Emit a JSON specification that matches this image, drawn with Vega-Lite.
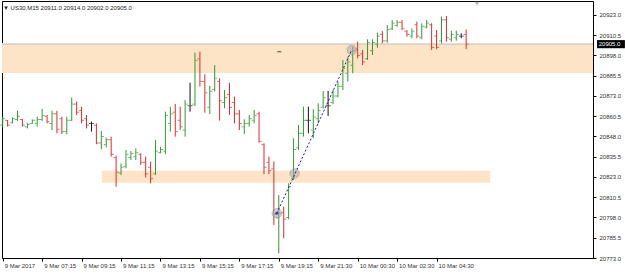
{
  "$schema": "https://vega.github.io/schema/vega-lite/v6.json",
  "width": 591,
  "height": 257,
  "autosize": "none",
  "padding": {"left": 2, "top": 1, "right": 32, "bottom": 16},
  "background": "white",
  "config": {
    "view": {"stroke": "#000000", "strokeWidth": 1},
    "font": "Liberation Sans"
  },
  "title": {
    "text": "▼ US30,M15  20911.0 20914.0 20902.0 20905.0",
    "anchor": "start",
    "frame": "group",
    "orient": "top",
    "offset": -10,
    "dx": 1,
    "fontSize": 6,
    "fontWeight": "normal",
    "color": "#222222",
    "font": "Liberation Sans"
  },
  "datasets": {
    "bars": [
      {"i":0,"o":20855,"h":20860.2,"l":20853.7,"c":20859,"d":"up"},
      {"i":1,"o":20858,"h":20858.2,"l":20854.1,"c":20855,"d":"down"},
      {"i":2,"o":20856.5,"h":20859.8,"l":20856.1,"c":20859,"d":"up"},
      {"i":3,"o":20858.5,"h":20863.9,"l":20857.6,"c":20860.5,"d":"up"},
      {"i":4,"o":20858.5,"h":20858.8,"l":20854.1,"c":20855,"d":"down"},
      {"i":5,"o":20854,"h":20856.5,"l":20853,"c":20855.5,"d":"up"},
      {"i":6,"o":20856,"h":20858.6,"l":20855.7,"c":20858,"d":"up"},
      {"i":7,"o":20856,"h":20860.2,"l":20854.1,"c":20858.5,"d":"up"},
      {"i":8,"o":20858.5,"h":20865,"l":20857.6,"c":20861,"d":"up"},
      {"i":9,"o":20860.5,"h":20861.3,"l":20856.1,"c":20857,"d":"down"},
      {"i":10,"o":20856,"h":20863.9,"l":20852,"c":20862,"d":"up"},
      {"i":11,"o":20862,"h":20863.9,"l":20850,"c":20852.5,"d":"down"},
      {"i":12,"o":20859,"h":20860.2,"l":20849.6,"c":20851,"d":"down"},
      {"i":13,"o":20851,"h":20860.2,"l":20849.3,"c":20858,"d":"up"},
      {"i":14,"o":20858,"h":20872,"l":20857.6,"c":20868,"d":"up"},
      {"i":15,"o":20868,"h":20869.5,"l":20861.3,"c":20863,"d":"down"},
      {"i":16,"o":20864,"h":20866.4,"l":20856.1,"c":20858,"d":"down"},
      {"i":17,"o":20859,"h":20861.3,"l":20853,"c":20855,"d":"down"},
      {"i":18,"o":20856,"h":20857.2,"l":20851,"c":20856,"d":"flat"},
      {"i":19,"o":20855,"h":20856.1,"l":20843.2,"c":20844,"d":"down"},
      {"i":20,"o":20844,"h":20851.4,"l":20840.1,"c":20848,"d":"up"},
      {"i":21,"o":20843,"h":20847.3,"l":20841.3,"c":20846,"d":"up"},
      {"i":22,"o":20846,"h":20847.9,"l":20835.6,"c":20837,"d":"down"},
      {"i":23,"o":20835,"h":20836.2,"l":20817,"c":20826,"d":"down"},
      {"i":24,"o":20825.5,"h":20831.4,"l":20824.2,"c":20829,"d":"up"},
      {"i":25,"o":20829.5,"h":20839.7,"l":20828.4,"c":20837,"d":"up"},
      {"i":26,"o":20835,"h":20839,"l":20833.5,"c":20837.5,"d":"up"},
      {"i":27,"o":20835.5,"h":20840.7,"l":20833.5,"c":20838,"d":"up"},
      {"i":28,"o":20837,"h":20837.6,"l":20830.4,"c":20832,"d":"down"},
      {"i":29,"o":20832,"h":20835.6,"l":20822.8,"c":20825,"d":"down"},
      {"i":30,"o":20829,"h":20832.5,"l":20819.1,"c":20822,"d":"down"},
      {"i":31,"o":20825,"h":20845.8,"l":20824.2,"c":20839,"d":"up"},
      {"i":32,"o":20838,"h":20841.7,"l":20837.6,"c":20840,"d":"up"},
      {"i":33,"o":20839,"h":20863.3,"l":20837,"c":20861,"d":"up"},
      {"i":34,"o":20856,"h":20866.4,"l":20851,"c":20862,"d":"up"},
      {"i":35,"o":20863,"h":20868.1,"l":20847.9,"c":20851,"d":"down"},
      {"i":36,"o":20858,"h":20866.4,"l":20852,"c":20854,"d":"down"},
      {"i":37,"o":20852,"h":20870.5,"l":20847.9,"c":20868,"d":"up"},
      {"i":38,"o":20867,"h":20881.2,"l":20863.3,"c":20867,"d":"flat"},
      {"i":39,"o":20868,"h":20899.8,"l":20866.8,"c":20895,"d":"up"},
      {"i":40,"o":20896,"h":20900.4,"l":20878.8,"c":20882,"d":"down"},
      {"i":41,"o":20882,"h":20886.4,"l":20862.7,"c":20875,"d":"down"},
      {"i":42,"o":20866,"h":20879.2,"l":20861.9,"c":20876,"d":"up"},
      {"i":43,"o":20877,"h":20892.1,"l":20875.7,"c":20884,"d":"up"},
      {"i":44,"o":20882,"h":20883.9,"l":20857.8,"c":20870,"d":"down"},
      {"i":45,"o":20869,"h":20876.7,"l":20865.4,"c":20872,"d":"up"},
      {"i":46,"o":20874,"h":20881.2,"l":20861.3,"c":20866,"d":"down"},
      {"i":47,"o":20869,"h":20872.6,"l":20856.1,"c":20862,"d":"down"},
      {"i":48,"o":20862,"h":20864.4,"l":20852,"c":20856,"d":"down"},
      {"i":49,"o":20854,"h":20858.6,"l":20849.6,"c":20856,"d":"up"},
      {"i":50,"o":20856,"h":20861.3,"l":20854.1,"c":20859,"d":"up"},
      {"i":51,"o":20858,"h":20864.4,"l":20856.1,"c":20861,"d":"up"},
      {"i":52,"o":20862,"h":20863.3,"l":20844.2,"c":20845,"d":"down"},
      {"i":53,"o":20843,"h":20843.8,"l":20824.8,"c":20829,"d":"down"},
      {"i":54,"o":20832,"h":20835.6,"l":20824.8,"c":20827,"d":"down"},
      {"i":55,"o":20828,"h":20832.5,"l":20793.4,"c":20800,"d":"down"},
      {"i":56,"o":20798,"h":20811.9,"l":20775.9,"c":20800.5,"d":"up"},
      {"i":57,"o":20801,"h":20804.7,"l":20785.2,"c":20797,"d":"down"},
      {"i":58,"o":20798,"h":20819.1,"l":20796.9,"c":20817,"d":"up"},
      {"i":59,"o":20822,"h":20846.9,"l":20821.2,"c":20840,"d":"up"},
      {"i":60,"o":20841,"h":20855.1,"l":20839.7,"c":20850,"d":"up"},
      {"i":61,"o":20850,"h":20866.4,"l":20847.9,"c":20858,"d":"up"},
      {"i":62,"o":20858,"h":20866.4,"l":20850,"c":20858,"d":"flat"},
      {"i":63,"o":20852,"h":20864.8,"l":20846.9,"c":20860,"d":"up"},
      {"i":64,"o":20859,"h":20868.5,"l":20856.1,"c":20864,"d":"up"},
      {"i":65,"o":20866,"h":20876.1,"l":20865.4,"c":20872,"d":"up"},
      {"i":66,"o":20867,"h":20876.1,"l":20860.7,"c":20867,"d":"flat"},
      {"i":67,"o":20869,"h":20876.7,"l":20867.9,"c":20873,"d":"up"},
      {"i":68,"o":20873,"h":20881.9,"l":20872.2,"c":20879,"d":"up"},
      {"i":69,"o":20879,"h":20895.2,"l":20876.7,"c":20890,"d":"up"},
      {"i":70,"o":20887,"h":20897.3,"l":20881.9,"c":20894,"d":"up"},
      {"i":71,"o":20892,"h":20903.5,"l":20887,"c":20901,"d":"up"},
      {"i":72,"o":20902,"h":20906.5,"l":20896.3,"c":20898,"d":"down"},
      {"i":73,"o":20899,"h":20901.4,"l":20892.1,"c":20894,"d":"down"},
      {"i":74,"o":20896,"h":20908,"l":20895.2,"c":20906,"d":"up"},
      {"i":75,"o":20901,"h":20908,"l":20898.3,"c":20906,"d":"up"},
      {"i":76,"o":20905,"h":20912.1,"l":20902.8,"c":20910,"d":"up"},
      {"i":77,"o":20911,"h":20913.1,"l":20905.5,"c":20907,"d":"down"},
      {"i":78,"o":20907,"h":20916.8,"l":20905.9,"c":20914,"d":"up"},
      {"i":79,"o":20914.5,"h":20919.9,"l":20913.7,"c":20918,"d":"up"},
      {"i":80,"o":20916.5,"h":20919.9,"l":20915.8,"c":20918.5,"d":"up"},
      {"i":81,"o":20918.5,"h":20919.9,"l":20913.7,"c":20914.5,"d":"down"},
      {"i":82,"o":20913,"h":20913.7,"l":20909.6,"c":20911,"d":"down"},
      {"i":83,"o":20910,"h":20914.8,"l":20908.6,"c":20913,"d":"up"},
      {"i":84,"o":20917,"h":20918.9,"l":20908.6,"c":20910,"d":"down"},
      {"i":85,"o":20909,"h":20917.9,"l":20908,"c":20916,"d":"up"},
      {"i":86,"o":20915.5,"h":20919.9,"l":20914.8,"c":20918,"d":"up"},
      {"i":87,"o":20917,"h":20917.9,"l":20901.4,"c":20903,"d":"down"},
      {"i":88,"o":20910,"h":20913.7,"l":20901.8,"c":20903,"d":"down"},
      {"i":89,"o":20907,"h":20922,"l":20905.5,"c":20920,"d":"up"},
      {"i":90,"o":20920,"h":20922.4,"l":20906.5,"c":20909,"d":"down"},
      {"i":91,"o":20908,"h":20913.3,"l":20906.5,"c":20911,"d":"up"},
      {"i":92,"o":20909,"h":20913.3,"l":20907.2,"c":20911,"d":"up"},
      {"i":93,"o":20910,"h":20911.7,"l":20908.6,"c":20910,"d":"flat"},
      {"i":94,"o":20911,"h":20914,"l":20902,"c":20905,"d":"down"}
    ],
    "zones": [
      {"x1": -0.142, "x2": 119.73, "y1": 20887.2, "y2": 20905.7},
      {"x1": 20.1, "x2": 98.9, "y1": 20819.5, "y2": 20826.9}
    ],
    "trend": [
      {"i": 55.6, "p": 20800.6},
      {"i": 70.8, "p": 20901.4}
    ],
    "anchors": [
      {"i": 55.6, "p": 20800.6},
      {"i": 59.2, "p": 20825.2},
      {"i": 70.8, "p": 20901.4}
    ]
  },
  "encoding": {
    "x": {
      "type": "quantitative",
      "scale": {"domain": [-0.142, 119.73], "nice": false, "zero": false},
      "axis": {
        "orient": "bottom",
        "title": null,
        "values": [0, 8, 16, 24, 32, 40, 48, 56, 64, 72, 80, 88],
        "labelExpr": "['9 Mar 2017','9 Mar 07:15','9 Mar 09:15','9 Mar 11:15','9 Mar 13:15','9 Mar 15:15','9 Mar 17:15','9 Mar 19:15','9 Mar 21:30','10 Mar 00:30','10 Mar 02:30','10 Mar 04:30'][round(datum.value/8)]",
        "labelAlign": "left",
        "labelBaseline": "top",
        "labelOffset": 1.5,
        "labelPadding": 1,
        "labelFontSize": 6,
        "labelColor": "#333333",
        "labelFont": "Liberation Sans",
        "labelOverlap": false,
        "labelFlush": false,
        "tickSize": 3,
        "tickColor": "#000000",
        "domainColor": "#000000",
        "grid": false
      }
    },
    "y": {
      "type": "quantitative",
      "scale": {"domain": [20773, 20931.64], "nice": false, "zero": false},
      "axis": {
        "orient": "right",
        "title": null,
        "values": [20773, 20785.5, 20798, 20810.5, 20823, 20835.5, 20848, 20860.5, 20873, 20885.5, 20898, 20910.5, 20923],
        "format": ".1f",
        "labelFontSize": 6,
        "labelColor": "#333333",
        "labelFont": "Liberation Sans",
        "labelPadding": 3,
        "labelOverlap": false,
        "labelFlush": false,
        "tickSize": 3,
        "tickColor": "#000000",
        "domainColor": "#000000",
        "grid": false
      }
    }
  },
  "layer": [
    {
      "data": {"name": "zones"},
      "mark": {"type": "rect", "color": "#FDE4C6", "opacity": 1},
      "encoding": {
        "x": {"field": "x1", "type": "quantitative"},
        "x2": {"field": "x2"},
        "y": {"field": "y1", "type": "quantitative"},
        "y2": {"field": "y2"}
      }
    },
    {
      "data": {"values": [{}]},
      "mark": {"type": "rule", "color": "#c8c8c8", "strokeWidth": 1},
      "encoding": {"y": {"datum": 20905, "type": "quantitative"}}
    },
    {
      "data": {"name": "bars"},
      "mark": {"type": "rule", "strokeWidth": 1},
      "encoding": {
        "x": {"field": "i", "type": "quantitative"},
        "y": {"field": "l", "type": "quantitative"},
        "y2": {"field": "h"},
        "color": {"field": "d", "type": "nominal", "scale": {"domain": ["up", "down", "flat"], "range": ["#2f9a2f", "#dc2a2a", "#111111"]}, "legend": null}
      }
    },
    {
      "data": {"name": "bars"},
      "mark": {"type": "tick", "orient": "horizontal", "size": 2, "thickness": 1, "xOffset": -1.5},
      "encoding": {
        "x": {"field": "i", "type": "quantitative"},
        "y": {"field": "o", "type": "quantitative"},
        "color": {"field": "d", "type": "nominal", "scale": {"domain": ["up", "down", "flat"], "range": ["#2f9a2f", "#dc2a2a", "#111111"]}, "legend": null}
      }
    },
    {
      "data": {"name": "bars"},
      "mark": {"type": "tick", "orient": "horizontal", "size": 2, "thickness": 1, "xOffset": 1.5},
      "encoding": {
        "x": {"field": "i", "type": "quantitative"},
        "y": {"field": "c", "type": "quantitative"},
        "color": {"field": "d", "type": "nominal", "scale": {"domain": ["up", "down", "flat"], "range": ["#2f9a2f", "#dc2a2a", "#111111"]}, "legend": null}
      }
    },
    {
      "data": {"name": "anchors"},
      "mark": {"type": "point", "filled": true, "size": 90, "color": "#a8a8b0", "opacity": 0.55, "stroke": "#8a8a90", "strokeWidth": 1},
      "encoding": {
        "x": {"field": "i", "type": "quantitative"},
        "y": {"field": "p", "type": "quantitative"}
      }
    },
    {
      "data": {"name": "trend"},
      "mark": {"type": "line", "color": "#1a1aa0", "strokeWidth": 1, "strokeDash": [2, 2]},
      "encoding": {
        "x": {"field": "i", "type": "quantitative"},
        "y": {"field": "p", "type": "quantitative"}
      }
    },
    {
      "data": {"values": [{}]},
      "mark": {"type": "point", "filled": true, "size": 10, "color": "#1a1aa0"},
      "encoding": {
        "x": {"datum": 55.6, "type": "quantitative"},
        "y": {"datum": 20800.6, "type": "quantitative"}
      }
    },
    {
      "data": {"values": [{}]},
      "mark": {"type": "tick", "orient": "horizontal", "size": 4, "thickness": 1, "color": "#000000"},
      "encoding": {
        "x": {"datum": 56.1, "type": "quantitative"},
        "y": {"datum": 20900.3, "type": "quantitative"}
      }
    },
    {
      "data": {"values": [{}]},
      "mark": {"type": "point", "shape": "triangle-down", "filled": true, "size": 22, "color": "#a0a0a0", "clip": false},
      "encoding": {
        "x": {"datum": 96.2, "type": "quantitative"},
        "y": {"datum": 20930.0, "type": "quantitative"}
      }
    },
    {
      "data": {"values": [{}]},
      "mark": {"type": "rect", "color": "#000000", "clip": false},
      "encoding": {
        "x": {"datum": 120.55, "type": "quantitative"},
        "x2": {"datum": 126.2},
        "y": {"datum": 20902.5, "type": "quantitative"},
        "y2": {"datum": 20907.5}
      }
    },
    {
      "data": {"values": [{"t": "20905.0"}]},
      "mark": {"type": "text", "color": "#ffffff", "align": "left", "baseline": "middle", "fontSize": 6, "font": "Liberation Sans", "clip": false},
      "encoding": {
        "x": {"datum": 120.9, "type": "quantitative"},
        "y": {"datum": 20905, "type": "quantitative"},
        "text": {"field": "t"}
      }
    }
  ]
}
